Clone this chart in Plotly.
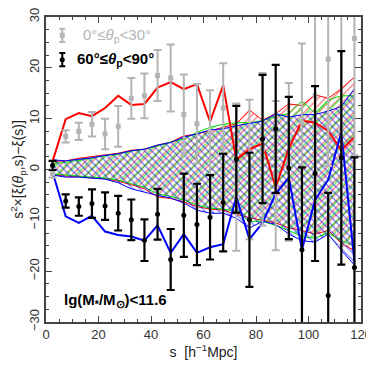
import plotly.graph_objects as go

# bin centres, s [h^-1 Mpc]
s = [2.5, 7.5, 12.5, 17.5, 22.5, 27.5, 32.5, 37.5, 42.5, 47.5, 52.5, 57.5,
     62.5, 67.5, 72.5, 77.5, 82.5, 87.5, 92.5, 97.5, 102.5, 107.5, 112.5, 117.5]

# 0 <= theta_p < 30 (grey)
y_par = [-0.8, 6.5, 7.5, 8.9, 7.0, 8.5, 14.0, 14.5, 18.5, 18.0, 10.8, 9.0,
         7.3, 12.1, -1.5, 0.0, 4.0, -1.2, 1.5, 9.2, 14.5, 21.7, 8.0, 25.8]
e_par = [0.8, 1.2, 1.7, 2.4, 3.0, 4.0, 4.0, 4.4, 5.0, 6.6, 7.9, 7.8,
         8.3, 8.8, 14.5, 13.7, 15.0, 14.7, 15.5, 15.6, 17.0, 21.0, 23.0, 23.0]

# 60 <= theta_p < 90 (black)
y_perp = [0.8, -6.2, -7.3, -6.7, -7.2, -8.6, -9.9, -13.9, -8.8, -17.7, -9.0, -10.8,
          -9.4, -6.5, 2.0, -9.9, 6.0, 8.0, 0.3, -15.8, -0.8, -24.8, 2.3, -19.3]
e_perp = [0.9, 1.3, 1.8, 2.8, 2.7, 3.4, 4.0, 4.1, 5.0, 6.0, 8.2, 8.0,
          8.3, 9.6, 10.5, 13.2, 12.6, 12.6, 14.0, 16.2, 17.2, 20.2, 21.0, 21.7]

# red / blue solid lines
red_line = [1.6, 9.9, 11.1, 10.5, 12.1, 14.5, 12.7, 12.9, 16.1, 17.2, 15.8, 16.8,
            9.4, 16.6, 1.9, 4.0, 5.1, -3.5, 4.1, 9.6, 9.2, 7.6, 3.8, 6.4]
blue_line = [-0.5, -9.2, -10.5, -9.1, -12.2, -12.9, -13.2, -14.0, -11.0, -16.4, -12.7, -16.4,
             -15.3, -14.7, -5.4, -13.7, -10.5, -4.8, -1.6, -15.8, -6.0, -2.0, 7.3, -18.2]

# hatched bands (upper / lower edges)
red_up = [1.6, 1.7, 2.2, 2.5, 2.9, 3.2, 3.8, 4.0, 4.8, 5.4, 6.6, 7.0,
          7.6, 8.3, 9.0, 11.7, 9.7, 11.0, 12.9, 12.6, 14.7, 14.0, 15.9, 18.2]
red_lo = [-1.0, -1.3, -1.4, -1.7, -1.8, -2.3, -3.0, -3.8, -5.4, -5.7, -6.4, -7.3,
          -7.8, -8.0, -8.8, -9.5, -10.0, -10.5, -11.5, -12.0, -12.7, -12.0, -14.5, -16.0]
green_up = [1.2, 1.4, 1.8, 2.3, 2.7, 3.0, 3.6, 4.0, 4.6, 5.4, 6.0, 7.3,
            8.3, 8.9, 9.2, 9.2, 9.6, 10.5, 11.0, 13.5, 11.1, 13.7, 14.5, 14.5]
green_lo = [-0.9, -1.2, -1.3, -1.5, -1.7, -2.1, -2.8, -3.5, -4.8, -5.3, -6.0, -7.0,
            -7.6, -7.8, -8.2, -10.2, -10.2, -11.0, -12.0, -13.2, -13.5, -12.5, -14.0, -15.0]
blue_up = [1.9, 1.7, 2.0, 2.3, 2.8, 3.1, 3.7, 4.0, 4.8, 5.3, 6.4, 7.0,
           7.8, 8.0, 8.6, 9.0, 9.5, 11.0, 10.3, 10.8, 10.8, 11.5, 12.4, 15.9]
blue_lo = [-1.1, -1.5, -1.5, -1.7, -1.9, -2.6, -3.8, -4.4, -5.1, -5.6, -6.6, -8.0,
           -8.6, -8.6, -9.6, -11.5, -10.2, -10.8, -12.7, -14.0, -14.3, -12.7, -15.9, -18.8]

FONT = "Liberation Sans"
GREY = "#b4b4b4"

fig = go.Figure()

bands = [(red_up, red_lo, "#ff0000", "/", 5),
         (green_up, green_lo, "#00dd00", "/", 7),
         (blue_up, blue_lo, "#0000ff", "\\", 5)]
for up, lo, col, shp, sz in bands:
    fig.add_trace(go.Scatter(
        x=s + s[::-1], y=up + lo[::-1], mode="lines", fill="toself",
        fillcolor="rgba(0,0,0,0)",
        fillpattern=dict(shape=shp, fgcolor=col, bgcolor="rgba(0,0,0,0)",
                         size=sz, solidity=0.28),
        line=dict(color=col, width=1), hoverinfo="skip", showlegend=False))

fig.add_trace(go.Scatter(x=s, y=red_line, mode="lines",
                         line=dict(color="#ff0000", width=2), showlegend=False))
fig.add_trace(go.Scatter(x=s, y=blue_line, mode="lines",
                         line=dict(color="#0000ff", width=2), showlegend=False))

fig.add_trace(go.Scatter(
    x=s, y=y_par, mode="markers",
    marker=dict(symbol="square", size=5, color=GREY),
    error_y=dict(type="data", array=e_par, color=GREY, thickness=2, width=4),
    showlegend=False))
fig.add_trace(go.Scatter(
    x=s, y=y_perp, mode="markers",
    marker=dict(symbol="circle", size=5, color="black"),
    error_y=dict(type="data", array=e_perp, color="black", thickness=2.2, width=4),
    showlegend=False))

# legend glyphs
fig.add_trace(go.Scatter(
    x=[6.2], y=[26.4], mode="markers",
    marker=dict(symbol="square", size=5, color=GREY),
    error_y=dict(type="data", array=[1.3], color=GREY, thickness=2, width=3),
    showlegend=False))
fig.add_trace(go.Scatter(
    x=[6.2], y=[21.6], mode="markers",
    marker=dict(symbol="circle", size=5, color="black"),
    error_y=dict(type="data", array=[1.3], color="black", thickness=2, width=3),
    showlegend=False))

fig.add_annotation(x=13.5, y=26.4, xanchor="left", yanchor="middle", showarrow=False,
                   text="0°≤<i>θ</i><sub>p</sub>&lt;30°",
                   font=dict(family=FONT, size=15, color=GREY))
fig.add_annotation(x=11.0, y=21.6, xanchor="left", yanchor="middle", showarrow=False,
                   text="<b>60°≤<i>θ</i><sub>p</sub>&lt;90°</b>",
                   font=dict(family=FONT, size=15, color="black"))
fig.add_annotation(x=6.0, y=-25.8, xanchor="left", yanchor="middle", showarrow=False,
                   text="<b>lg(M<sub>*</sub>/M<sub>⊙</sub>)&lt;11.6</b>",
                   font=dict(family=FONT, size=15, color="black"))

axis_common = dict(showgrid=False, zeroline=False, showline=True, linecolor="#444",
                   linewidth=1.5, mirror="allticks", ticks="inside", ticklen=6,
                   tickcolor="#444", ticklabeloverflow="allow",
                   tickfont=dict(family=FONT, size=13, color="#333"))

fig.update_xaxes(range=[0, 120], dtick=20, tick0=0,
                 minor=dict(dtick=5, ticks="inside", ticklen=3, tickcolor="#444"),
                 title=dict(text="s  [h<sup>−1</sup>Mpc]", standoff=6,
                            font=dict(family=FONT, size=14, color="#222")),
                 **axis_common)
fig.update_yaxes(range=[-30, 30], dtick=10, tick0=0, tickangle=-90,
                 minor=dict(dtick=2.5, ticks="inside", ticklen=3, tickcolor="#444"),
                 title=dict(text="s<sup>2</sup>×[ξ(<i>θ</i><sub>p</sub>,s)−ξ(s)]", standoff=4,
                            font=dict(family=FONT, size=14, color="#222")),
                 **axis_common)

# page body adds an 8px margin, so the figure is sized to sit inside the window
fig.update_layout(width=366, height=356, margin=dict(l=38, r=13, t=0, b=42),
                  plot_bgcolor="white", paper_bgcolor="white", showlegend=False)

fig.write_html("out.html")
